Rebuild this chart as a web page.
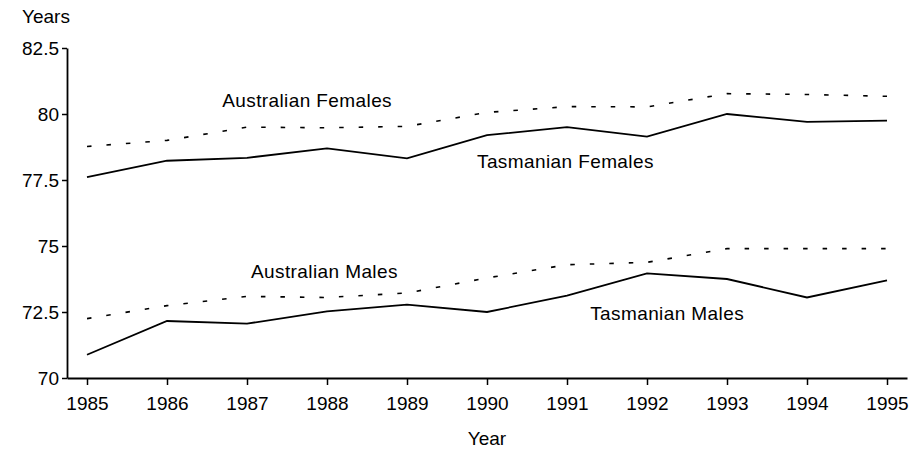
<!DOCTYPE html>
<html>
<head>
<meta charset="utf-8">
<script src="https://cdn.jsdelivr.net/npm/d3@7"></script>
<style>
  body { margin: 0; background: #fff; }
  svg text { font-family: "Liberation Sans", Arial, sans-serif; fill: #000; }
</style>
</head>
<body>
<div id="chart"></div>
<script>
var years = [1985, 1986, 1987, 1988, 1989, 1990, 1991, 1992, 1993, 1994, 1995];

var australianFemales = [78.77, 79.0, 79.5, 79.48, 79.53, 80.06, 80.28, 80.27, 80.77, 80.74, 80.67];
var tasmanianFemales = [77.61, 78.23, 78.34, 78.7, 78.32, 79.2, 79.5, 79.14, 80.0, 79.7, 79.75];
var australianMales = [72.25, 72.74, 73.09, 73.05, 73.22, 73.79, 74.29, 74.38, 74.9, 74.9, 74.9];
var tasmanianMales = [70.88, 72.16, 72.06, 72.52, 72.78, 72.5, 73.12, 73.96, 73.75, 73.05, 73.7];

var yTicks = [70, 72.5, 75, 77.5, 80, 82.5];

var series = [
  { name: "Australian Females", values: australianFemales, dashed: true },
  { name: "Tasmanian Females", values: tasmanianFemales, dashed: false },
  { name: "Australian Males", values: australianMales, dashed: true },
  { name: "Tasmanian Males", values: tasmanianMales, dashed: false }
];

// where each series name sits, in data units (left edge / baseline)
var labelAnchors = [
  { text: "Australian Females", year: 1986.69, value: 80.27 },
  { text: "Tasmanian Females", year: 1989.875, value: 77.95 },
  { text: "Australian Males", year: 1987.05, value: 73.79 },
  { text: "Tasmanian Males", year: 1991.29, value: 72.2 }
];

var width = 920,
  height = 450;

var svg = d3
  .select("#chart")
  .append("svg")
  .attr("width", width)
  .attr("height", height);

var x = d3
  .scaleLinear()
  .domain([1984.75, 1995.25])
  .range([67, 907]);

var y = d3
  .scaleLinear()
  .domain([70, 82.5])
  .range([378, 48]);

// axes
var xAxis = d3
  .axisBottom(x)
  .tickValues(years)
  .tickFormat(d3.format("d"))
  .tickSize(7)
  .tickSizeOuter(0)
  .tickPadding(12);

var yAxis = d3
  .axisLeft(y)
  .tickValues(yTicks)
  .tickFormat(function(d) {
    return String(d);
  })
  .tickSize(5)
  .tickSizeOuter(0)
  .tickPadding(3);

var gx = svg
  .append("g")
  .attr("transform", "translate(0," + y(70) + ")")
  .call(xAxis);

var gy = svg
  .append("g")
  .attr("transform", "translate(" + x(1984.75) + ",0)")
  .call(yAxis);

[gx, gy].forEach(function(g) {
  g.select(".domain").attr("stroke", "#000").attr("stroke-width", 1.8);
  g.selectAll(".tick line").attr("stroke", "#000").attr("stroke-width", 1.5);
  g.selectAll(".tick text")
    .attr("fill", "#000")
    .style("font-size", "19px")
    .style("font-family", '"Liberation Sans", Arial, sans-serif');
});

// lines
var line = d3
  .line()
  .x(function(d, i) {
    return x(years[i]);
  })
  .y(function(d) {
    return y(d);
  });

svg
  .selectAll(".series")
  .data(series)
  .enter()
  .append("path")
  .attr("class", "series")
  .attr("d", function(d) {
    return line(d.values);
  })
  .attr("fill", "none")
  .attr("stroke", "#000")
  .attr("stroke-width", function(d) {
    return d.dashed ? 1.6 : 1.8;
  })
  .attr("stroke-dasharray", function(d) {
    return d.dashed ? "4.5,15" : null;
  });

// series labels
svg
  .selectAll(".label")
  .data(labelAnchors)
  .enter()
  .append("text")
  .attr("class", "label")
  .attr("x", function(d) {
    return x(d.year);
  })
  .attr("y", function(d) {
    return y(d.value);
  })
  .style("font-size", "19px")
  .style("letter-spacing", "0.4px")
  .text(function(d) {
    return d.text;
  });

// axis titles
svg
  .append("text")
  .attr("x", 22)
  .attr("y", 23)
  .style("font-size", "19px")
  .text("Years");

svg
  .append("text")
  .attr("x", x(1990))
  .attr("y", 445)
  .attr("text-anchor", "middle")
  .style("font-size", "19px")
  .text("Year");
</script>
</body>
</html>
